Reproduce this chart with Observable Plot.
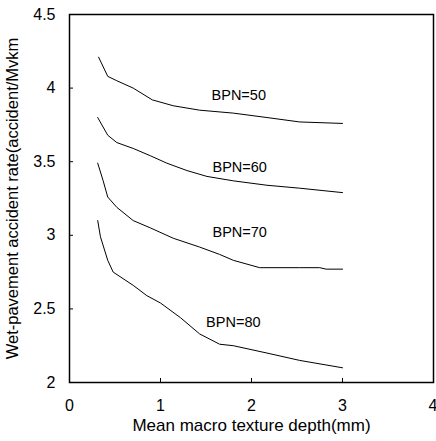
<!DOCTYPE html>
<html>
<head>
<meta charset="utf-8">
<script src="https://cdn.jsdelivr.net/npm/d3@7"></script>
<script src="https://cdn.jsdelivr.net/npm/@observablehq/plot@0.6"></script>
<style>
  html, body { margin: 0; padding: 0; background: #fff; }
  svg { display: block; }
</style>
</head>
<body>
<div id="chart"></div>
<script>
const xTicks = [0, 1, 2, 3];
const xLastTick = [4];
const yTicks = [2, 2.5, 3, 3.5, 4, 4.5];
const yTickLabels = ["2", "2.5", "3", "3.5", "4", "4.5"];
const xInnerTicks = [1, 2, 3];
const yInnerTicks = [2.5, 3, 3.5, 4];

const depth50 = [0.32, 0.42, 0.52, 0.70, 0.91, 1.14, 1.43, 1.80, 2.17, 2.53, 3.0];
const rate50  = [4.21, 4.08, 4.05, 4.00, 3.92, 3.88, 3.85, 3.83, 3.80, 3.77, 3.76];

const depth60 = [0.31, 0.42, 0.52, 0.70, 0.89, 1.07, 1.29, 1.51, 1.80, 2.17, 2.53, 3.0];
const rate60  = [3.80, 3.68, 3.63, 3.59, 3.54, 3.49, 3.44, 3.40, 3.37, 3.34, 3.32, 3.29];

const depth70 = [0.31, 0.37, 0.42, 0.52, 0.70, 0.89, 1.14, 1.43, 1.65, 1.80, 2.09, 2.53, 2.75, 2.82, 3.0];
const rate70  = [3.49, 3.37, 3.26, 3.19, 3.10, 3.05, 2.98, 2.92, 2.87, 2.83, 2.78, 2.78, 2.78, 2.77, 2.77];

const depth80 = [0.31, 0.34, 0.42, 0.48, 0.70, 0.85, 1.00, 1.22, 1.43, 1.65, 1.80, 2.17, 2.53, 3.0];
const rate80  = [3.10, 2.99, 2.83, 2.75, 2.66, 2.59, 2.54, 2.44, 2.33, 2.26, 2.25, 2.20, 2.15, 2.10];

const seriesNames = ["BPN=50", "BPN=60", "BPN=70", "BPN=80"];
const labelX = [1.86, 1.87, 1.87, 1.80];
const labelY = [3.95, 3.46, 3.02, 2.41];

const xLabel = "Mean macro texture depth(mm)";
const yLabel = "Wet-pavement accident rate(accident/Mvkm";

const toRows = (name, xs, ys) => xs.map((x, i) => ({series: name, x, y: ys[i]}));
const rows = [
  ...toRows(seriesNames[0], depth50, rate50),
  ...toRows(seriesNames[1], depth60, rate60),
  ...toRows(seriesNames[2], depth70, rate70),
  ...toRows(seriesNames[3], depth80, rate80)
];
const labels = seriesNames.map((s, i) => ({s, x: labelX[i], y: labelY[i]}));

const chart = Plot.plot({
  width: 436,
  height: 441,
  marginLeft: 69,
  marginRight: 3,
  marginTop: 14,
  marginBottom: 59,
  style: {fontFamily: "'Liberation Sans', Arial, sans-serif", fontSize: "16px", color: "#000", background: "#fff"},
  x: {domain: [0, 4]},
  y: {domain: [2, 4.5]},
  marks: [
    Plot.axisX(xTicks, {tickSize: 0, tickPadding: 17, fontSize: 16, label: null}),
    Plot.axisX(xLastTick, {tickSize: 0, tickPadding: 17, fontSize: 16, textAnchor: "end", dx: 4, label: null}),
    Plot.axisY(yTicks, {tickSize: 0, tickPadding: 14, fontSize: 16, tickFormat: (d, i) => yTickLabels[i], label: null}),
    Plot.axisX(xInnerTicks, {tickSize: 4, dy: -4, tickFormat: () => "", label: null, stroke: "#000"}),
    Plot.axisY(yInnerTicks, {tickSize: 4, dx: 4, tickFormat: () => "", label: null, stroke: "#000"}),
    Plot.text([xLabel], {frameAnchor: "bottom", text: d => d, textAnchor: "middle", lineAnchor: "bottom", dy: 48, fontSize: 17, fill: "#000"}),
    Plot.text([yLabel], {frameAnchor: "left", text: d => d, rotate: -90, textAnchor: "middle", lineAnchor: "middle", dx: -57, fontSize: 16.5, fill: "#000"}),
    Plot.frame({stroke: "#000", strokeWidth: 1.5}),
    Plot.line(rows, {x: "x", y: "y", z: "series", stroke: "#000", strokeWidth: 1, curve: "linear"}),
    Plot.text(labels, {x: "x", y: "y", text: "s", fontSize: 14.5, fill: "#000"})
  ]
});
document.getElementById("chart").appendChild(chart);
</script>
</body>
</html>
